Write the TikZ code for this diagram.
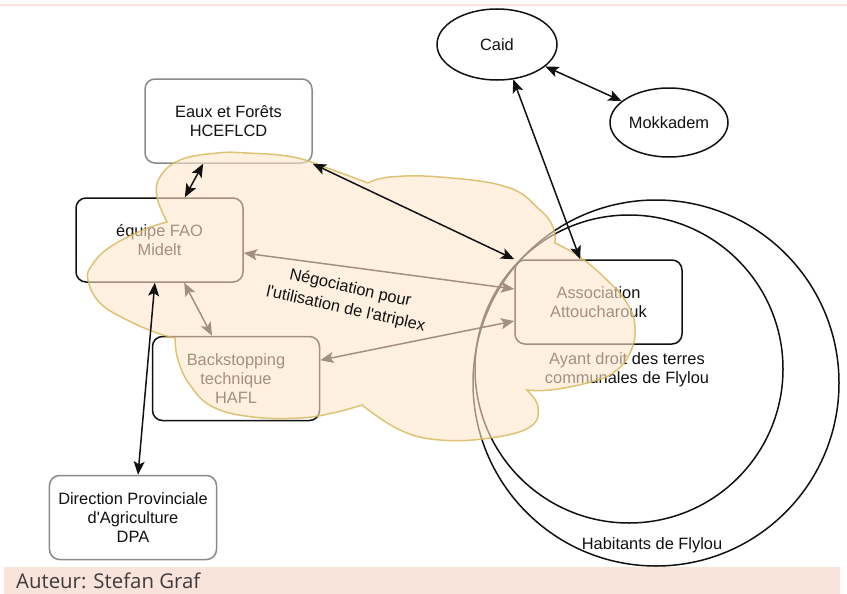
\documentclass[tikz,border=0pt]{standalone}
\usepackage{fontspec}
\setmainfont{Liberation Sans}[Ligatures=TeXOff]
\newfontfamily\footfont{Open Sans}
\usetikzlibrary{arrows.meta,positioning,calc,shapes.geometric}
\definecolor{Ink}{HTML}{111111}
\definecolor{Frame}{HTML}{8A8A8A}
\definecolor{Peach}{HTML}{FFE6CC}
\definecolor{Gold}{HTML}{D6B656}
\definecolor{Band}{HTML}{FAE3DA}
\definecolor{Foot}{HTML}{3C3C3C}
\tikzset{>={Stealth[length=4mm,width=3.3mm,inset=0.9mm]},
 every node/.style={font=\fontsize{14}{16.2}\selectfont,text=Ink},
 arr/.style={<->,line width=0.45mm,draw=Ink},
 box/.style={draw=Ink,line width=0.45mm,rounded corners=3mm,minimum width=50.1mm,minimum height=25.2mm,align=center,inner sep=0pt},
 greybox/.style={box,draw=Frame},
 ell/.style={ellipse,draw=Ink,line width=0.45mm,minimum width=36mm,minimum height=21.3mm,inner sep=0pt},
 ring/.style={circle,draw=Ink,line width=0.45mm,inner sep=0pt},
 cloudy/.style={fill=Peach,draw=Gold,line width=0.45mm,fill opacity=0.6,draw opacity=0.8},
 }

\begin{document}
\begin{tikzpicture}[x=0.3mm,y=-0.3mm]
 \useasboundingbox (0,0) rectangle (847,594);
 \draw[Band,line width=0.6mm] (0,5) -- (847,5);
 \fill[Band] (4,567) rectangle (840,594);
 \node[anchor=west,font=\footfont\fontsize{17.4}{20}\selectfont,text=Foot] (author) at (12,581) {Auteur: Stefan Graf};

 % Flylou
 \node[ring,minimum size=109.8mm] (habitants) at (656,383) {};
 \node[ring,minimum size=92.4mm] (ayants) at (629,369) {};
 \node (habtext) at (652,545) {Habitants de Flylou};
 \node[align=center] (ayanttext) at (627,370) {Ayant droit des terres\\communales de Flylou};

 % acteurs
 \node[ell] (caid) at (497,44.5) {Caid};
 \node[ell,minimum width=35.4mm,minimum height=20.7mm] (mokk) at (669,122.5) {Mokkadem};
 \node[greybox] (eaux) at (228.5,121) {Eaux et Forêts\\HCEFLCD};
 \node[box] (fao) at (159.5,240) {équipe FAO\\Midelt};
 \node[box] (hafl) at (236,378.5) {Backstopping\\technique\\HAFL};
 \node[box] (assoc) at (598.5,302) {Association\\Attoucharouk};
 \node[greybox] (dpa) at (133,517.5) {Direction Provinciale\\d'Agriculture\\DPA};

 % liens sous le nuage
 \draw[arr] ([yshift=-3.9mm]fao.east) -- ([yshift=3.9mm]assoc.west);
 \draw[arr] ([yshift=5.5mm]hafl.east) -- ([yshift=-5.7mm]assoc.west);
 \draw[arr] ([xshift=7.4mm]fao.south) -- ([xshift=-7.2mm]hafl.north);

 % nuage
 \filldraw[cloudy] (167,222)
  -- plot[smooth,tension=.7] coordinates {(167,222) (157,197) (160,177) (180,160) (217,153) (247,153) (293,157) (330,169) (368,183)}
  -- plot[smooth,tension=.7] coordinates {(368,183) (390,177) (440,177) (507,187) (540,210) (553,227) (555,243)}
  -- plot[smooth,tension=.7] coordinates {(555,243) (580,257) (607,280) (627,303) (635,327) (630,353) (613,373) (587,383) (550,390) (527,390)}
  -- plot[smooth,tension=.7] coordinates {(527,390) (538,407) (530,427) (490,438) (440,440) (400,430) (362,405)}
  -- plot[smooth,tension=.7] coordinates {(362,405) (333,413) (300,418) (253,417) (213,407) (190,385) (178,360) (175,338)}
  -- plot[smooth,tension=.7] coordinates {(175,338) (157,333) (127,320) (100,303) (88,280) (92,265) (110,247) (143,230) (167,222)}
  -- cycle;

 % liens
 \draw[arr] ([xshift=-7.6mm]eaux.south) -- ([xshift=7.6mm]fao.north);
 \draw[arr] (eaux.south east) -- (assoc.north west);
 \draw[arr] (caid.-65) -- ([xshift=-5.5mm]assoc.north);
 \draw[arr] (caid) -- (mokk);
 \draw[arr] ([xshift=-1.4mm]fao.south) -- ([xshift=1.5mm]dpa.north);
 \node[rotate=-12.5,align=center,font=\fontsize{14}{18.3}\selectfont] (nego) at (348,299) {Négociation pour\\l'utilisation de l'atriplex};
\end{tikzpicture}
\end{document}
